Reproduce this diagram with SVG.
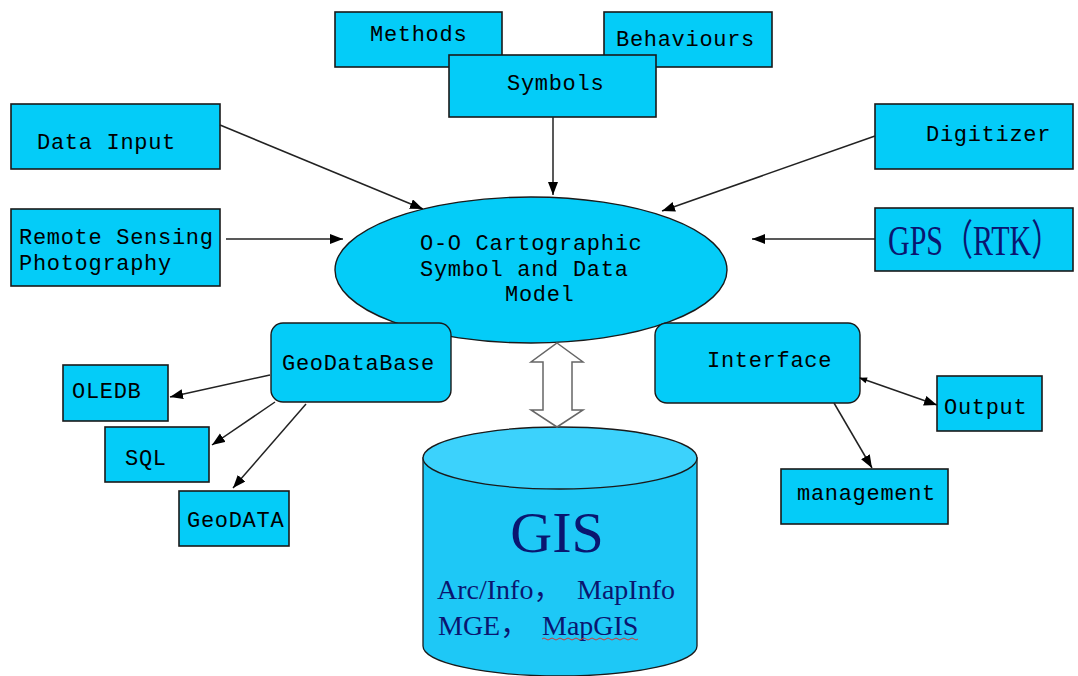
<svg xmlns="http://www.w3.org/2000/svg" width="1078" height="676" viewBox="0 0 1078 676">
<style>
.box{fill:#04CCF8;stroke:#1a1a1a;stroke-width:1.6}
.rbox{fill:#04CCF8;stroke:#1a1a1a;stroke-width:1.4}
.lbl{font-family:"Liberation Mono",monospace;font-size:22px;letter-spacing:0.7px;fill:#000}
.ser{font-family:"Liberation Serif","Noto Sans CJK SC",serif;fill:#0a1670}
.con{stroke:#222;stroke-width:1.5;fill:none;marker-end:url(#ah)}
</style>
<defs>
<marker id="ah" markerUnits="userSpaceOnUse" markerWidth="14" markerHeight="12" refX="13" refY="5" orient="auto">
<path d="M0,0 L13,5 L0,10 z" fill="#000"/>
</marker>
<marker id="as" markerUnits="userSpaceOnUse" markerWidth="10" markerHeight="8" refX="1" refY="3" orient="auto">
<path d="M8,0 L0,3 L8,6 z" fill="#000"/>
</marker>
</defs>
<rect width="1078" height="676" fill="#fff"/>

<g id="methods"><rect class="box" x="335" y="12" width="167" height="55"/><text class="lbl" x="370" y="41">Methods</text></g>
<g id="behaviours"><rect class="box" x="604" y="12" width="168" height="55"/><text class="lbl" x="616" y="46">Behaviours</text></g>
<g id="symbols"><rect class="box" x="449" y="55" width="207" height="62"/><text class="lbl" x="507" y="90">Symbols</text></g>

<g id="data-input"><rect class="box" x="11" y="104" width="209" height="65"/><text class="lbl" x="37" y="149">Data Input</text></g>
<g id="remote-sensing"><rect class="box" x="11" y="209" width="209" height="77"/><text class="lbl" x="19" y="244">Remote Sensing</text><text class="lbl" x="19" y="270">Photography</text></g>
<g id="digitizer"><rect class="box" x="875" y="104" width="198" height="65"/><text class="lbl" x="926" y="141">Digitizer</text></g>
<g id="gps"><rect class="box" x="875" y="208" width="198" height="63"/><text class="ser" transform="translate(888,255) scale(1,1.4)" x="0" y="0" font-size="30">GPS（RTK）</text></g>

<g id="model"><ellipse cx="531" cy="270" rx="196" ry="73" fill="#04CCF8" stroke="#1a1a1a" stroke-width="1.4"/>
<text class="lbl" x="420" y="250">O-O Cartographic</text>
<text class="lbl" x="420" y="276">Symbol and Data</text>
<text class="lbl" x="505" y="301">Model</text></g>

<g id="geodatabase"><rect class="rbox" x="271" y="323" width="180" height="79" rx="12"/><text class="lbl" x="282" y="370">GeoDataBase</text></g>
<g id="interface"><rect class="rbox" x="655" y="323" width="205" height="80" rx="12"/><text class="lbl" x="707" y="367">Interface</text></g>

<g id="oledb"><rect class="box" x="63" y="365" width="105" height="56"/><text class="lbl" x="72" y="398">OLEDB</text></g>
<g id="sql"><rect class="box" x="105" y="427" width="104" height="55"/><text class="lbl" x="125" y="465">SQL</text></g>
<g id="geodata"><rect class="box" x="179" y="491" width="110" height="55"/><text class="lbl" x="187" y="527">GeoDATA</text></g>
<g id="output"><rect class="box" x="937" y="376" width="105" height="55"/><text class="lbl" x="944" y="414">Output</text></g>
<g id="management"><rect class="box" x="781" y="469" width="167" height="55"/><text class="lbl" x="797" y="500">management</text></g>

<g id="gis">
<path d="M423,458 L423,646 A137,30 0 0 0 697,646 L697,458 Z" fill="#1ec8f6" stroke="#1a1a1a" stroke-width="1.3"/>
<ellipse cx="560" cy="458" rx="137" ry="31" fill="#3cd2fc" stroke="#1a1a1a" stroke-width="1.3"/>
<text class="ser" x="557" y="552" font-size="58" text-anchor="middle">GIS</text>
<text class="ser" font-size="28"><tspan x="437" y="599">Arc/Info，</tspan><tspan x="577" y="599">MapInfo</tspan></text>
<text class="ser" font-size="28"><tspan x="438" y="635">MGE，</tspan><tspan x="542" y="635">MapGIS</tspan></text>
<path d="M542,639 q2,-2 4,0 t4,0 t4,0 t4,0 t4,0 t4,0 t4,0 t4,0 t4,0 t4,0 t4,0 t4,0 t4,0 t4,0 t4,0 t4,0 t4,0 t4,0 t4,0 t4,0 t4,0 t4,0 t4,0 t4,0" fill="none" stroke="#d23a3a" stroke-width="1"/>
</g>

<g id="connectors">
<path class="con" d="M220,125 L423,209"/>
<path class="con" d="M553,117 L553,195"/>
<path class="con" d="M875,136 L662,211"/>
<path class="con" d="M226,239 L343,239"/>
<path class="con" d="M875,239 L752,239"/>
<path class="con" d="M270,375 L170,397"/>
<path class="con" d="M275,402 L212,445"/>
<path class="con" d="M306,404 L233,488"/>
<path class="con" d="M860,378 L937,405" marker-start="url(#as)"/>
<path class="con" d="M834,403 L872,468"/>
<polygon points="557,343 583,362 572,362 572,410 583,410 557,427 531,410 543,410 543,362 531,362" fill="#fff" stroke="#666" stroke-width="1.5"/>
</g>
</svg>
